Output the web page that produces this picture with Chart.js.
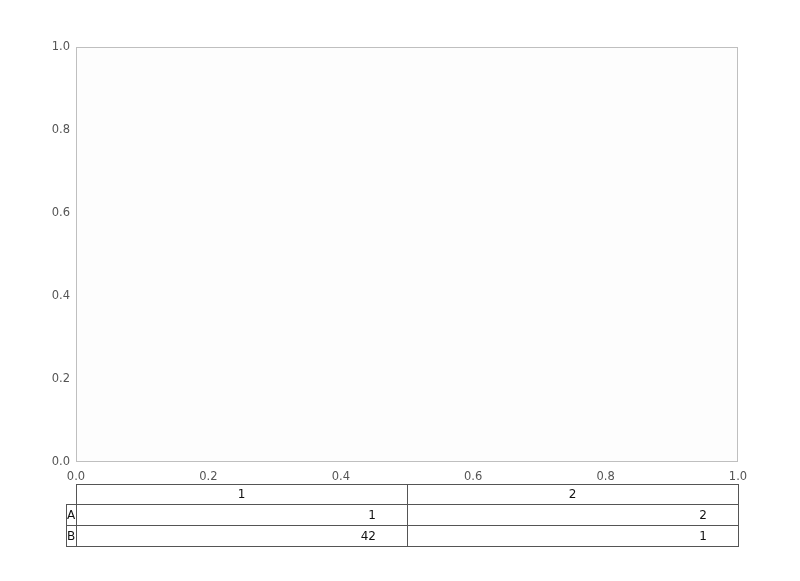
<!DOCTYPE html>
<html lang="en">
<head>
  <meta charset="UTF-8" />
  <title>Empty axes with table</title>
  <script src="https://cdn.jsdelivr.net/npm/chart.js@4.4.0/dist/chart.umd.min.js"></script>
  <style>
    body {
      margin: 0;
      background: #ffffff;
    }
    .chart-container {
      width: 800px;
      height: 581px;
    }
  </style>
</head>
<body>
  <div class="chart-container">
    <canvas id="chart"></canvas>
  </div>

  <script>
    // axis ticks
    const xTicks = [0, 0.2, 0.4, 0.6, 0.8, 1.0];
    const yTicks = [0, 0.2, 0.4, 0.6, 0.8, 1.0];

    // table under the axes
    const colLabels = ['1', '2'];
    const rowLabels = ['A', 'B'];
    const rowA = [1, 2];
    const rowB = [42, 1];
    const cellRows = [rowA, rowB];

    const frameAndTable = {
      id: 'frameAndTable',
      beforeDraw(chart) {
        const { ctx, chartArea: a } = chart;
        ctx.save();
        ctx.fillStyle = '#fdfdfd';
        ctx.fillRect(a.left, a.top, a.right - a.left, a.bottom - a.top);
        ctx.restore();
      },
      afterDraw(chart) {
        const { ctx, chartArea: a, scales } = chart;
        ctx.save();
        // axes frame
        ctx.strokeStyle = '#bfbfbf';
        ctx.lineWidth = 1;
        ctx.strokeRect(a.left + 0.5, a.top + 0.5, a.right - a.left - 1, a.bottom - a.top - 1);

        // table: columns split the axes width evenly
        const nCols = colLabels.length;
        const colEdges = [];
        for (let i = 0; i <= nCols; i++) {
          colEdges.push(scales.x.getPixelForValue(i / nCols));
        }
        const rowH = 21;
        const top = a.bottom + 22;
        const labelW = 10;
        ctx.strokeStyle = '#555555';
        ctx.fillStyle = '#111111';
        ctx.font = '12px "DejaVu Sans"';
        ctx.textBaseline = 'middle';

        // header row
        for (let c = 0; c < nCols; c++) {
          const l = colEdges[c], r = colEdges[c + 1];
          ctx.strokeRect(Math.round(l) + 0.5, top + 0.5, r - l, rowH - 1);
          ctx.textAlign = 'center';
          ctx.fillText(colLabels[c], (l + r) / 2, top + rowH / 2);
        }
        // body rows
        cellRows.forEach((vals, ri) => {
          const y = top + rowH * (ri + 1) - 1;
          const l0 = colEdges[0] - labelW;
          ctx.strokeRect(Math.round(l0) + 0.5, y + 0.5, labelW, rowH);
          ctx.textAlign = 'left';
          ctx.fillText(rowLabels[ri], l0 + 1, y + rowH / 2 + 1);
          vals.forEach((v, c) => {
            const l = colEdges[c], r = colEdges[c + 1];
            ctx.strokeRect(Math.round(l) + 0.5, y + 0.5, r - l, rowH);
            ctx.textAlign = 'right';
            ctx.fillText(String(v), l + (r - l) * 0.9 + 2, y + rowH / 2 + 1);
          });
        });
        ctx.restore();
      }
    };

    new Chart(document.getElementById('chart'), {
      type: 'scatter',
      data: { datasets: [{ data: [] }] },
      options: {
        responsive: true,
        maintainAspectRatio: false,
        animation: false,
        layout: { padding: { top: 47, right: 62, left: 0, bottom: 0 } },
        plugins: { legend: { display: false }, tooltip: { enabled: false } },
        scales: {
          x: {
            type: 'linear',
            min: 0,
            max: 1,
            afterFit: (s) => { s.height = 119; },
            afterBuildTicks: (s) => { s.ticks = xTicks.map(v => ({ value: v })); },
            grid: { display: false, drawTicks: false },
            border: { display: false },
            ticks: {
              padding: 8,
              color: '#555555',
              font: { family: 'DejaVu Sans', size: 11.5 },
              maxRotation: 0,
              callback: (v) => v.toFixed(1)
            }
          },
          y: {
            type: 'linear',
            min: 0,
            max: 1,
            afterFit: (s) => { s.width = 76; },
            afterBuildTicks: (s) => { s.ticks = yTicks.map(v => ({ value: v })); },
            grid: { display: false, drawTicks: false },
            border: { display: false },
            ticks: {
              padding: 6,
              color: '#555555',
              font: { family: 'DejaVu Sans', size: 11.5 },
              callback: (v) => v.toFixed(1)
            }
          }
        }
      },
      plugins: [frameAndTable]
    });
  </script>
</body>
</html>
